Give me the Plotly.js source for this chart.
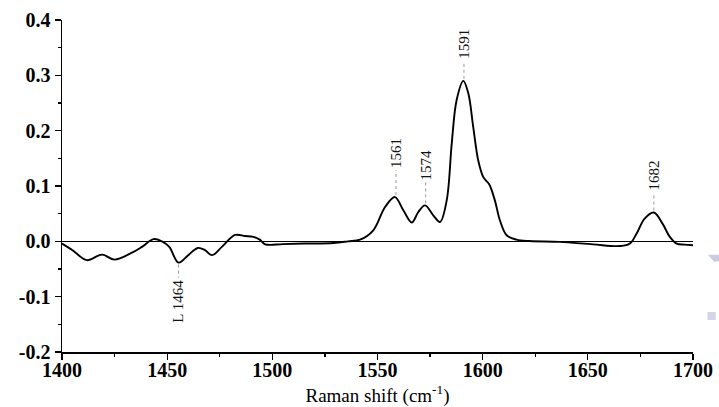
<!DOCTYPE html>
<html>
<head>
<meta charset="utf-8">
<script src="https://cdn.plot.ly/plotly-3.0.1.min.js"></script>
<style>
  html, body {margin: 0; padding: 0; background: #fff;}
  #plot {width: 719px; height: 407px;}
</style>
</head>
<body>
<div id="plot"></div>
<script>
// spectrum
const shift = [1400, 1405, 1411.8, 1419, 1425, 1433, 1438, 1443.5, 1447.5, 1451,
  1455.4, 1460, 1464.6, 1468, 1471.3, 1476, 1482.3, 1487, 1491, 1494,
  1496.6, 1505, 1515, 1529, 1536, 1541.7, 1548, 1553.6, 1558.3, 1562.3,
  1566.3, 1569.4, 1572.6, 1576.5, 1579.7, 1582.9, 1585.3, 1587.6, 1590.8, 1593.2,
  1595.5, 1597.9, 1600.3, 1603.1, 1605.8, 1608.2, 1611.4, 1616.1, 1622.4, 1636.7,
  1652.5, 1665.2, 1670, 1673.2, 1677, 1681.4, 1685.5, 1689, 1692.2, 1696, 1700];
const intensity = [-0.004, -0.016, -0.034, -0.024, -0.033, -0.021, -0.010, 0.004, 0.0, -0.010,
  -0.0385, -0.025, -0.012, -0.016, -0.025, -0.010, 0.0115, 0.0096, 0.008, 0.003,
  -0.0055, -0.005, -0.004, -0.003, 0.0, 0.003, 0.020, 0.062, 0.080, 0.056,
  0.034, 0.053, 0.065, 0.047, 0.035, 0.074, 0.177, 0.255, 0.290, 0.267,
  0.207, 0.146, 0.116, 0.103, 0.074, 0.038, 0.011, 0.003, 0.0005, -0.001,
  -0.0055, -0.0085, -0.004, 0.014, 0.041, 0.052, 0.032, 0.008, -0.004, -0.006, -0.007];

// peak labels
const peakText = ['L 1464', '1561', '1574', '1591', '1682'];
const peakX = [1455.4, 1558.8, 1572.9, 1591.1, 1681.4];
const peakY = [-0.0385, 0.080, 0.065, 0.290, 0.052];
const peakGap = [-15, 27, 23, 20, 20];   // px between peak and label

const yTicks = [-0.2, -0.1, 0.0, 0.1, 0.2, 0.3, 0.4];
const yTickText = ['-0.2', '-0.1', '0.0', '0.1', '0.2', '0.3', '0.4'];

const SERIF = 'Liberation Serif, serif';
const Y_RANGE = [-0.2, 0.4];
const PLOT_H = 407 - 20 - 55;
const pxToY = (px) => px * (Y_RANGE[1] - Y_RANGE[0]) / PLOT_H;

let annotations = [];
let shapes = [];
for (let i = 0; i < peakText.length; i++) {
  let up = peakGap[i] > 0;
  let yEnd = peakY[i] + pxToY(peakGap[i]);
  annotations.push({
    x: peakX[i], y: yEnd, xref: 'x', yref: 'y',
    text: peakText[i], showarrow: false, textangle: -90,
    xanchor: 'center', yanchor: up ? 'bottom' : 'top',
    font: {family: SERIF, size: 15, color: '#111'}
  });
  shapes.push({
    type: 'line', xref: 'x', yref: 'y',
    x0: peakX[i], x1: peakX[i],
    y0: peakY[i] + pxToY(up ? 2 : -2), y1: yEnd,
    line: {color: '#999', width: 1, dash: 'dot'}
  });
}

// faint marks at the right edge
shapes.push({
  type: 'path', xref: 'paper', yref: 'paper',
  path: 'M 1.0235 0.2928 L 1.0425 0.2928 L 1.0425 0.2750 L 1.0340 0.2710 Z',
  fillcolor: '#cbcbe4', line: {width: 0}
});
shapes.push({
  type: 'rect', xref: 'paper', yref: 'paper',
  x0: 1.0230, x1: 1.0360, y0: 0.0963, y1: 0.1205,
  fillcolor: '#d4d4e8', line: {width: 0}
});

const trace = {
  x: shift, y: intensity,
  mode: 'lines',
  line: {color: '#000', width: 1.9, shape: 'spline', smoothing: 1},
  hoverinfo: 'skip'
};

const tickFont = {family: SERIF, size: 20, color: '#000', weight: 'bold'};

const layout = {
  width: 719, height: 407,
  margin: {l: 62, r: 26, t: 20, b: 55},
  paper_bgcolor: '#fff', plot_bgcolor: '#fff',
  showlegend: false,
  xaxis: {
    range: [1400, 1700], dtick: 50, tick0: 1400,
    showgrid: false, zeroline: false,
    showline: true, linecolor: '#000', linewidth: 1.5,
    ticks: 'outside', ticklen: 6, tickwidth: 1.3, tickcolor: '#000',
    minor: {dtick: 25, ticks: 'outside', ticklen: 3, tickwidth: 1.2, tickcolor: '#000', showgrid: false},
    tickfont: tickFont, ticklabelstandoff: -7,
    title: {text: 'Raman shift (cm<sup>-1</sup>)', font: {family: SERIF, size: 19, color: '#000'}, standoff: 9},
    automargin: false
  },
  yaxis: {
    range: Y_RANGE, tickvals: yTicks, ticktext: yTickText,
    showgrid: false,
    zeroline: true, zerolinecolor: '#000', zerolinewidth: 1.3,
    showline: true, linecolor: '#000', linewidth: 1.5,
    ticks: 'outside', ticklen: 6, tickwidth: 1.3, tickcolor: '#000',
    minor: {dtick: 0.05, ticks: 'outside', ticklen: 3, tickwidth: 1.2, tickcolor: '#000', showgrid: false},
    tickfont: tickFont,
    automargin: false
  },
  annotations: annotations,
  shapes: shapes
};

Plotly.newPlot('plot', [trace], layout, {displayModeBar: false, staticPlot: true});
</script>
</body>
</html>
